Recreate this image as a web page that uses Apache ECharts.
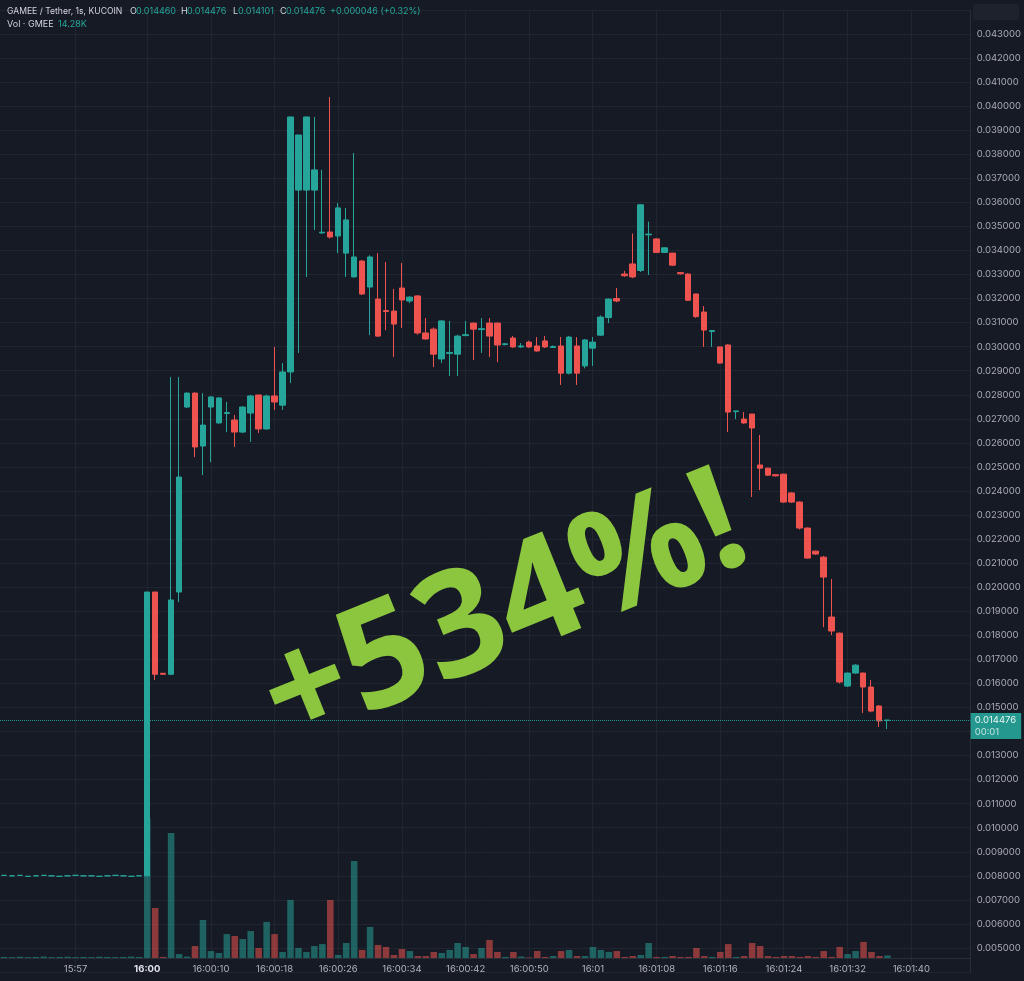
<!DOCTYPE html>
<html><head><meta charset="utf-8">
<script src="https://cdn.jsdelivr.net/npm/echarts@6/dist/echarts.min.js"></script>
<style>html,body{margin:0;padding:0;background:#161a25;}#c{width:1024px;height:981px;}</style>
</head><body><div id="c"></div>
<script>
// ---- data ----
const preTimes = ['15:56:14','15:56:22','15:56:29','15:56:35','15:56:41','15:56:46','15:56:50','15:56:54','15:56:57',
  '15:57:00','15:57:18','15:57:39','15:57:58','15:58:20','15:58:44','15:59:07','15:59:29','15:59:48'];
const skippedSeconds = [1, 2, 57, 59];   // seconds after 16:00:00 with no bar
const slotCount = 122;

// [open, close, low, high]
const ohlc = [
  [0.00802,0.00802,0.00802,0.00802],[0.00800,0.00800,0.00800,0.00800],[0.00802,0.00802,0.00802,0.00802],
  [0.00798,0.00798,0.00798,0.00798],[0.00800,0.00800,0.00800,0.00800],[0.00802,0.00802,0.00802,0.00802],
  [0.00800,0.00800,0.00800,0.00800],[0.00798,0.00798,0.00798,0.00798],[0.00800,0.00800,0.00800,0.00800],
  [0.00802,0.00802,0.00802,0.00802],[0.00800,0.00800,0.00800,0.00800],[0.00800,0.00800,0.00800,0.00800],
  [0.00798,0.00798,0.00798,0.00798],[0.00800,0.00800,0.00800,0.00800],[0.00802,0.00802,0.00802,0.00802],
  [0.00800,0.00800,0.00800,0.00800],[0.00798,0.00798,0.00798,0.00798],[0.00800,0.00800,0.00800,0.00800],
  [0.00800,0.01980,0.00800,0.01980],[0.01980,0.01638,0.01614,0.01980],[0.01642,0.01638,0.01636,0.01644],
  [0.01638,0.01947,0.01636,0.02874],[0.01980,0.02458,0.01938,0.02874],[0.02749,0.02807,0.02745,0.02810],
  [0.02807,0.02583,0.02541,0.02810],[0.02587,0.02674,0.02466,0.02807],[0.02749,0.02791,0.02520,0.02795],
  [0.02683,0.02787,0.02680,0.02790],[0.02722,0.02726,0.02645,0.02770],[0.02695,0.02645,0.02583,0.02716],
  [0.02645,0.02749,0.02640,0.02752],[0.02724,0.02795,0.02604,0.02800],[0.02799,0.02658,0.02641,0.02800],
  [0.02658,0.02795,0.02655,0.02800],[0.02795,0.02770,0.02737,0.02999],[0.02757,0.02895,0.02737,0.02932],
  [0.02895,0.03955,0.02849,0.03955],[0.03651,0.03880,0.02974,0.03880],[0.03651,0.03955,0.03290,0.03955],
  [0.03651,0.03735,0.03485,0.03955],[0.03473,0.03476,0.03470,0.03735],[0.03477,0.03456,0.03450,0.04038],
  [0.03460,0.03577,0.03389,0.03597],[0.03389,0.03527,0.03290,0.03577],[0.03290,0.03373,0.03288,0.03805],
  [0.03356,0.03219,0.03215,0.03360],[0.03248,0.03373,0.03048,0.03380],[0.03198,0.03044,0.03040,0.03389],
  [0.03150,0.03146,0.03069,0.03352],[0.03148,0.03094,0.02957,0.03240],[0.03244,0.03194,0.03078,0.03348],
  [0.03190,0.03206,0.03181,0.03210],[0.03211,0.03057,0.03050,0.03215],[0.03057,0.03032,0.03030,0.03119],
  [0.03073,0.02969,0.02915,0.03080],[0.02949,0.03107,0.02932,0.03110],[0.02972,0.02976,0.02878,0.03107],
  [0.02969,0.03044,0.02878,0.03050],[0.03046,0.03050,0.03045,0.03107],[0.03098,0.03073,0.02945,0.03100],
  [0.03071,0.03075,0.02974,0.03119],[0.03098,0.03044,0.02957,0.03119],[0.03098,0.03007,0.02936,0.03100],
  [0.03009,0.03012,0.03005,0.03015],[0.03036,0.02999,0.02995,0.03045],[0.02999,0.03003,0.02995,0.03015],
  [0.03019,0.02999,0.02995,0.03025],[0.03003,0.02982,0.02980,0.03040],[0.03024,0.02999,0.02995,0.03045],
  [0.02997,0.03001,0.02995,0.03005],[0.03003,0.02890,0.02841,0.03040],[0.02890,0.03040,0.02885,0.03045],
  [0.03003,0.02890,0.02841,0.03040],[0.02920,0.03028,0.02910,0.03032],[0.02994,0.03019,0.02920,0.03040],
  [0.03048,0.03123,0.03045,0.03130],[0.03121,0.03198,0.03098,0.03200],[0.03200,0.03190,0.03185,0.03244],
  [0.03302,0.03295,0.03290,0.03315],[0.03344,0.03290,0.03285,0.03470],[0.03317,0.03590,0.03310,0.03592],
  [0.03465,0.03468,0.03298,0.03520],[0.03448,0.03392,0.03390,0.03450],[0.03392,0.03411,0.03390,0.03413],
  [0.03389,0.03339,0.03335,0.03390],[0.03308,0.03303,0.03300,0.03310],[0.03302,0.03193,0.03190,0.03305],
  [0.03219,0.03125,0.03120,0.03220],[0.03144,0.03069,0.02999,0.03169],[0.03063,0.03067,0.02999,0.03067],
  [0.02999,0.02932,0.02930,0.03000],[0.03007,0.02728,0.02645,0.03010],[0.02730,0.02733,0.02699,0.02733],
  [0.02699,0.02683,0.02680,0.02728],[0.02720,0.02662,0.02375,0.02720],[0.02508,0.02495,0.02404,0.02633],
  [0.02495,0.02466,0.02462,0.02497],[0.02468,0.02463,0.02460,0.02470],[0.02470,0.02354,0.02350,0.02472],
  [0.02392,0.02354,0.02350,0.02395],[0.02354,0.02246,0.02240,0.02356],[0.02246,0.02121,0.02118,0.02248],
  [0.02150,0.02138,0.02135,0.02152],[0.02125,0.02042,0.01834,0.02130],[0.01876,0.01818,0.01801,0.02034],
  [0.01809,0.01606,0.01600,0.01812],[0.01589,0.01643,0.01585,0.01645],[0.01643,0.01676,0.01640,0.01680],
  [0.01643,0.01585,0.01477,0.01645],[0.01585,0.01485,0.01480,0.01614],[0.01506,0.01444,0.01419,0.01510],
  [0.014460,0.014476,0.014101,0.014476]
];

// volume in thousands
const volumes = [
  6,5,7,5,6,8,5,6,7,5,6,5,7,6,5,6,8,6,
  784,280,6,700,22,8,67,213,39,28,
  134,123,106,151,56,202,134,34,325,56,
  34,67,78,325,17,84,543,45,174,73,
  62,17,50,39,11,11,34,28,45,84,
  62,22,56,101,34,6,34,8,3,39,
  6,11,39,45,11,11,62,45,34,39,
  6,11,17,84,6,6,11,6,6,56,
  11,6,34,78,6,11,84,67,11,6,
  11,11,6,11,6,39,6,62,22,39,
  90,34,11,14.28
];

const tickLabels = {
  '15:57:00':'15:57','16:00:00':'16:00','16:00:10':'16:00:10','16:00:18':'16:00:18','16:00:26':'16:00:26',
  '16:00:34':'16:00:34','16:00:42':'16:00:42','16:00:50':'16:00:50','16:01:00':'16:01','16:01:08':'16:01:08',
  '16:01:16':'16:01:16','16:01:24':'16:01:24','16:01:32':'16:01:32','16:01:40':'16:01:40'
};
const boldTicks = ['16:00'];
const priceMin = 0.004, priceMax = 0.044, priceStep = 0.001;
const hiddenPriceTicks = [0.004, 0.014, 0.044];
const volumeMax = 1680;

// ---- build categories ----
const pad = n => (n < 10 ? '0' : '') + n;
const categories = preTimes.slice();
for (let t = 0; categories.length < slotCount; t++) {
  if (skippedSeconds.indexOf(t) >= 0) continue;
  const s = 16 * 3600 + t;
  categories.push(pad(Math.floor(s / 3600)) + ':' + pad(Math.floor(s / 60) % 60) + ':' + pad(s % 60));
}

const UP = '#26a69a', DOWN = '#ef5350';
const last = ohlc[ohlc.length - 1];
const volData = volumes.map((v, i) => ({
  value: v,
  itemStyle: { color: ohlc[i][1] >= ohlc[i][0] ? 'rgba(38,166,154,0.52)' : 'rgba(239,83,80,0.55)' }
}));
const isTick = (idx, val) => tickLabels.hasOwnProperty(val);

const chart = echarts.init(document.getElementById('c'), null, { renderer: 'canvas' });
const FONT = 'Inter, Roboto, "Noto Sans", sans-serif';
chart.setOption({
  backgroundColor: '#161a25',
  animation: false,
  grid: [
    { left: -1, width: 972, top: 9.95, bottom: 8.95 },
    { left: -1, width: 972, bottom: 23, height: 300 }
  ],
  xAxis: [
    { type: 'category', gridIndex: 0, data: categories, boundaryGap: true,
      axisLine: { show: false }, axisTick: { show: false }, axisLabel: { show: false },
      splitLine: { show: true, interval: isTick, alignWithLabel: true, lineStyle: { color: '#21252f', width: 1 } } },
    { type: 'category', gridIndex: 1, data: categories, boundaryGap: true,
      axisLine: { show: true, lineStyle: { color: '#2a2e39' } }, axisTick: { show: false },
      splitLine: { show: false },
      axisLabel: { interval: isTick, margin: 6, color: '#b2b5be', fontSize: 9.5, fontFamily: FONT,
        formatter: v => { const l = tickLabels[v] || ''; return boldTicks.indexOf(l) >= 0 ? '{b|' + l + '}' : l; },
        rich: { b: { fontWeight: 'bold', color: '#e0e3eb', fontSize: 9.5, fontFamily: FONT } } } }
  ],
  yAxis: [
    { type: 'value', gridIndex: 0, position: 'right', min: priceMin, max: priceMax, interval: priceStep,
      axisLine: { show: true, lineStyle: { color: '#2a2e39' } }, axisTick: { show: false },
      splitLine: { show: true, lineStyle: { color: '#21252f', width: 1 } },
      axisLabel: { margin: 6, color: '#a9acb5', fontSize: 9.5, fontFamily: FONT, align: 'left',
        formatter: v => hiddenPriceTicks.some(h => Math.abs(h - v) < 1e-9) ? '' : v.toFixed(6) } },
    { type: 'value', gridIndex: 1, min: 0, max: volumeMax, show: false }
  ],
  series: [
    { type: 'bar', xAxisIndex: 1, yAxisIndex: 1, data: volData, barWidth: '82%', z: 2, silent: true },
    { type: 'candlestick', xAxisIndex: 0, yAxisIndex: 0, data: ohlc, barWidth: 6, z: 3,
      itemStyle: { color: UP, color0: DOWN, borderColor: UP, borderColor0: DOWN, borderColorDoji: UP, borderWidth: 1 } },
    { type: 'line', xAxisIndex: 0, yAxisIndex: 0, data: ohlc.map(() => null), showSymbol: false, silent: true, z: 4,
      markLine: { symbol: 'none', silent: true, animation: false, precision: 6,
        data: [{ yAxis: last[1] }],
        lineStyle: { color: UP, type: 'dotted', width: 1, opacity: 0.9 },
        label: { show: true, position: 'end', distance: 0, offset: [0, 6],
          formatter: () => last[1].toFixed(6) + '\n{t|00:01}',
          backgroundColor: UP, color: '#ffffff', fontSize: 9.5, lineHeight: 12, fontFamily: FONT,
          padding: [1, 5, 1, 4], align: 'left',
          rich: { t: { color: 'rgba(255,255,255,0.8)', fontSize: 9.5, lineHeight: 12, fontFamily: FONT } } } } }
  ],
  graphic: [
    { type: 'rect', shape: { x: 973, y: 4, width: 46, height: 16, r: 2 }, style: { fill: '#1e222d' }, z: 10 },
    { type: 'text', x: 7, y: 11, style: { text: 'GAMEE / Tether, 1s, KUCOIN', fill: '#d1d4dc', fontSize: 8.6, fontFamily: FONT, textVerticalAlign: 'middle' }, z: 10 },
    { type: 'text', x: 0, y: 11, style: { x: 130, text: 'O', fill: '#d1d4dc', fontSize: 9, fontFamily: FONT, textVerticalAlign: 'middle' }, z: 10 },
    { type: 'text', x: 0, y: 11, style: { x: 136, text: last[0].toFixed(6), fill: UP, fontSize: 9, fontFamily: FONT, textVerticalAlign: 'middle' }, z: 10 },
    { type: 'text', x: 0, y: 11, style: { x: 181, text: 'H', fill: '#d1d4dc', fontSize: 9, fontFamily: FONT, textVerticalAlign: 'middle' }, z: 10 },
    { type: 'text', x: 0, y: 11, style: { x: 187, text: last[3].toFixed(6), fill: UP, fontSize: 9, fontFamily: FONT, textVerticalAlign: 'middle' }, z: 10 },
    { type: 'text', x: 0, y: 11, style: { x: 233, text: 'L', fill: '#d1d4dc', fontSize: 9, fontFamily: FONT, textVerticalAlign: 'middle' }, z: 10 },
    { type: 'text', x: 0, y: 11, style: { x: 238, text: last[2].toFixed(6), fill: UP, fontSize: 9, fontFamily: FONT, textVerticalAlign: 'middle' }, z: 10 },
    { type: 'text', x: 0, y: 11, style: { x: 280, text: 'C', fill: '#d1d4dc', fontSize: 9, fontFamily: FONT, textVerticalAlign: 'middle' }, z: 10 },
    { type: 'text', x: 0, y: 11, style: { x: 286, text: last[1].toFixed(6), fill: UP, fontSize: 9, fontFamily: FONT, textVerticalAlign: 'middle' }, z: 10 },
    { type: 'text', x: 0, y: 11, style: { x: 330, text: '+0.000046 (+0.32%)', fill: UP, fontSize: 9, fontFamily: FONT, textVerticalAlign: 'middle' }, z: 10 },
    { type: 'text', x: 7, y: 24, style: { text: 'Vol · GMEE', fill: '#d1d4dc', fontSize: 9, fontFamily: FONT, textVerticalAlign: 'middle' }, z: 10 },
    { type: 'text', x: 58, y: 24, style: { text: (volumes[volumes.length - 1]).toFixed(2) + 'K', fill: UP, fontSize: 9, fontFamily: FONT, textVerticalAlign: 'middle' }, z: 10 },
    { type: 'text', x: 505, y: 614, rotation: 22 * Math.PI / 180,
      style: { text: '+534%!', fill: '#8cc63f', fontSize: 146, fontWeight: 'bold', fontFamily: '"Open Sans", "Noto Sans", sans-serif',
        textAlign: 'center', textVerticalAlign: 'middle' }, z: 20 }
  ]
});
</script></body></html>
